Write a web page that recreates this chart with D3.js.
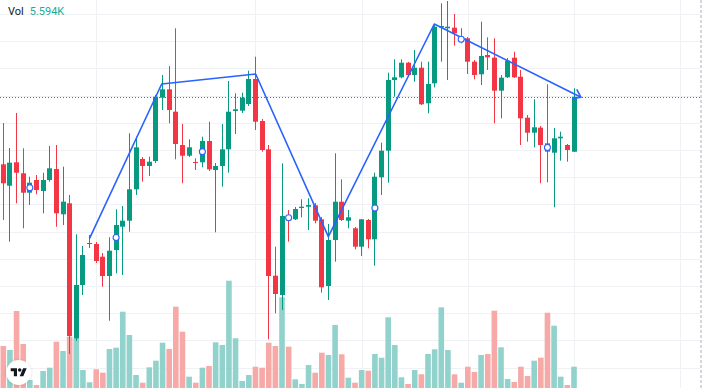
<!DOCTYPE html>
<html><head><meta charset="utf-8">
<script src="https://cdn.jsdelivr.net/npm/d3@7"></script>
<style>html,body{margin:0;padding:0;background:#fff;overflow:hidden}</style>
</head><body>
<svg id="chart" width="704" height="390"></svg>
<script>
// ---- data ----
const opens  = [23.57,21.43,23.77,22.67,20.73,22.00,20.90,22.00,23.10,18.57,19.67,6.17,11.50,15.60,15.60,14.33,12.40,15.00,17.33,17.93,21.07,24.10,23.40,23.90,30.23,31.07,28.83,25.50,24.43,23.80,23.77,25.90,23.00,23.40,25.07,28.90,28.93,29.60,32.10,27.90,25.07,12.43,10.50,18.35,18.07,19.20,19.33,19.47,18.07,11.40,16.00,19.83,17.93,17.17,15.33,18.00,16.07,22.27,24.93,32.00,32.27,33.73,32.50,33.23,29.67,31.67,37.25,37.17,37.23,35.83,36.17,33.83,32.57,34.50,34.23,30.93,32.27,34.23,32.33,28.23,26.73,27.23,25.67,24.73,26.17,25.50,24.83];
const highs  = [27.70,25.20,28.70,25.17,22.33,22.50,22.73,25.40,25.50,23.33,20.50,16.57,15.40,16.50,15.80,14.70,16.27,19.07,19.40,26.67,26.33,24.30,24.33,30.50,32.50,33.40,37.17,27.60,26.07,24.17,26.33,27.83,23.70,27.60,31.90,30.67,30.73,32.93,34.33,28.10,25.50,15.33,23.67,19.00,19.30,20.07,20.17,19.70,18.30,17.60,24.67,22.07,19.00,17.30,18.10,18.10,22.73,25.73,32.73,34.07,34.07,33.80,35.00,33.83,33.83,37.50,39.67,39.90,38.60,37.17,36.30,34.00,37.83,36.27,36.17,32.50,34.20,34.83,33.00,28.50,30.07,27.40,31.57,27.20,26.83,25.60,31.17];
const lows   = [18.00,15.83,19.67,17.17,19.50,20.57,18.67,21.83,17.33,17.50,4.60,5.90,10.50,15.20,13.70,11.33,7.93,12.67,12.50,16.83,20.50,21.83,22.40,23.70,29.00,27.67,24.07,21.67,24.30,23.00,23.27,22.90,16.77,21.33,22.73,26.60,28.70,29.40,27.00,24.83,6.07,8.67,9.00,15.83,18.00,18.27,17.00,17.67,10.73,10.00,13.83,17.90,17.17,15.07,14.40,15.17,13.43,20.50,21.73,30.33,32.17,32.40,31.83,29.50,28.67,31.27,33.83,32.00,35.43,35.67,32.60,32.07,31.50,33.00,27.67,28.17,32.20,32.20,25.50,25.83,25.27,21.67,21.77,19.27,23.93,23.83,24.80];
const closes = [21.67,23.73,22.73,20.73,21.73,21.00,22.00,23.17,18.67,19.83,6.40,11.50,14.50,15.70,13.90,12.40,14.93,17.50,17.93,21.07,25.27,23.40,23.83,30.33,31.07,29.00,25.60,24.43,25.27,23.70,25.90,23.07,23.40,25.07,28.83,29.07,30.23,32.10,27.83,25.00,12.40,10.60,18.40,18.10,19.10,19.33,19.50,17.93,11.27,16.00,19.83,18.00,18.27,15.33,18.07,16.07,22.33,24.93,32.00,32.27,33.73,32.50,33.23,29.57,31.60,37.33,37.40,37.33,36.67,36.33,33.83,32.50,34.40,34.27,30.93,32.23,33.93,32.27,28.17,26.73,27.27,25.50,24.83,26.17,26.33,25.00,30.33];
const volumes = [11.02,9.97,20.21,11.55,2.10,0.79,4.46,5.33,12.15,9.71,13.47,13.12,4.72,1.50,4.91,4.02,10.24,10.58,20.03,13.91,3.41,1.39,5.43,7.17,11.89,10.24,21.34,14.78,2.97,1.39,5.33,5.77,12.00,11.29,28.16,13.05,1.84,3.41,5.59,5.33,11.89,11.02,23.81,10.84,2.28,1.05,6.04,4.02,9.27,8.66,16.54,8.85,2.70,1.39,4.72,4.54,8.92,7.95,18.56,11.29,2.81,1.05,4.72,3.60,8.92,10.16,21.18,9.97,3.60,1.39,5.59,4.20,8.66,8.92,20.29,10.68,2.36,1.57,5.59,3.15,7.17,7.95,19.76,16.35,2.97,0.79,5.594];
const gridPrices = [38.60,35.88,33.16,30.44,27.72,25.00,22.28,19.56,16.84,14.12,11.40,8.68,5.96,3.24];
const timeTickIdx = [14,38,54,70,86,102];
const markerIdx = [4,17,30,43,56,69,82];
const drawIdx = [13,23.87,38.03,48.98,64.95,87.05];
const drawPrice = [16.17,31.60,32.60,16.33,37.60,30.27];
const volLabel = "Vol";
const volValue = "5.594K";

// ---- styles ----
const UP = "#089981", DOWN = "#F23645";
const UPV = "#92d2cc", DOWNV = "#f7a9a7";
const W = 704, H = 390;

const svg = d3.select("#chart");
const x = d3.scaleLinear().domain([0, 86]).range([3.3, 574]);
const y = d3.scaleLinear().domain([0, 40]).range([400, 0]);
const yv = d3.scaleLinear().domain([0, 30]).range([388, 388 - 114.3]);

const idx = d3.range(opens.length);

// grid
const g = svg.append("g");
g.selectAll("line.h").data(gridPrices).join("line")
  .attr("x1", 0).attr("x2", 700)
  .attr("y1", d => Math.round(y(d)) + 0.5).attr("y2", d => Math.round(y(d)) + 0.5)
  .attr("stroke", "#f0f1f4").attr("stroke-width", 1);
g.selectAll("line.v").data(timeTickIdx).join("line")
  .attr("y1", 0).attr("y2", 388)
  .attr("x1", d => Math.round(x(d)) + 0.5).attr("x2", d => Math.round(x(d)) + 0.5)
  .attr("stroke", "#f0f1f4").attr("stroke-width", 1);

// volume
svg.append("g").selectAll("rect").data(idx).join("rect")
  .attr("x", i => x(i) - 2.8).attr("width", 5.6)
  .attr("y", i => yv(volumes[i])).attr("height", i => 388 - yv(volumes[i]))
  .attr("fill", i => closes[i] >= opens[i] ? UPV : DOWNV);

// candles
const cg = svg.append("g");
cg.selectAll("line").data(idx).join("line")
  .attr("x1", i => Math.round(x(i) - 2.5) + 2.5).attr("x2", i => Math.round(x(i) - 2.5) + 2.5)
  .attr("y1", i => y(highs[i])).attr("y2", i => y(lows[i]))
  .attr("stroke", i => closes[i] >= opens[i] ? UP : DOWN).attr("stroke-width", 1);
cg.selectAll("rect").data(idx).join("rect")
  .attr("x", i => Math.round(x(i) - 2.5)).attr("width", 5)
  .attr("y", i => y(Math.max(opens[i], closes[i])))
  .attr("height", i => Math.max(1, Math.abs(y(opens[i]) - y(closes[i]))))
  .attr("fill", i => closes[i] >= opens[i] ? UP : DOWN);

// last price line
const lastY = Math.round(y(closes[closes.length - 1])) + 0.5;
svg.append("line").attr("x1", 0).attr("x2", 700).attr("y1", lastY).attr("y2", lastY)
  .attr("stroke", UP).attr("stroke-width", 1).attr("stroke-dasharray", "1,2");

// drawing polyline with arrow
const pts = drawIdx.map((d, k) => [x(d), y(drawPrice[k])]);
svg.append("path").attr("d", d3.line()(pts))
  .attr("fill", "none").attr("stroke", "#2962FF").attr("stroke-width", 1.6)
  .attr("stroke-linejoin", "round");
const tip = pts[pts.length - 1], prev = pts[pts.length - 2];
const ang = Math.atan2(tip[1] - prev[1], tip[0] - prev[0]);
const L = 9, a = 0.62;
const arm1 = [tip[0] - L * Math.cos(ang - a), tip[1] - L * Math.sin(ang - a)];
const arm2 = [tip[0] - L * Math.cos(ang + a), tip[1] - L * Math.sin(ang + a)];
svg.append("path").attr("d", d3.line()([arm1, tip, arm2]))
  .attr("fill", "none").attr("stroke", "#2962FF").attr("stroke-width", 1.6)
  .attr("stroke-linejoin", "round");

// markers
svg.append("g").selectAll("circle").data(markerIdx).join("circle")
  .attr("cx", i => x(i)).attr("cy", i => y((opens[i] + closes[i]) / 2))
  .attr("r", 3).attr("fill", "#fff").attr("stroke", "#2962FF").attr("stroke-width", 1.1);

// right border (price scale edge)
svg.append("line").attr("x1", 701).attr("x2", 701).attr("y1", 0).attr("y2", H)
  .attr("stroke", "#d4d6dc").attr("stroke-width", 2).attr("stroke-dasharray", "3,2");

// legend text
const t = svg.append("text").attr("x", 8).attr("y", 15)
  .attr("font-family", "Roboto, 'Liberation Sans', sans-serif").attr("font-size", 11);
t.append("tspan").attr("fill", "#131722").text(volLabel);
t.append("tspan").attr("dx", 6).attr("fill", "#22ab94").text(volValue);

// logo
const defs = svg.append("defs");
const f = defs.append("filter").attr("id", "sh").attr("x", "-50%").attr("y", "-50%").attr("width", "200%").attr("height", "200%");
f.append("feDropShadow").attr("dx", 0).attr("dy", 0.5).attr("stdDeviation", 1.5).attr("flood-color", "#000").attr("flood-opacity", 0.18);
svg.append("circle").attr("cx", 18.7).attr("cy", 372.5).attr("r", 12.5).attr("fill", "#fff").attr("filter", "url(#sh)");
const lg = svg.append("g").attr("transform", "translate(10.7,366.4) scale(0.45)").attr("fill", "#131722");
lg.append("path").attr("d", "M14 22H7V11H0V4h14v18zM28 22h-8l7.5-18h8L28 22z");
lg.append("circle").attr("cx", 20).attr("cy", 8).attr("r", 4);
</script>
</body></html>
